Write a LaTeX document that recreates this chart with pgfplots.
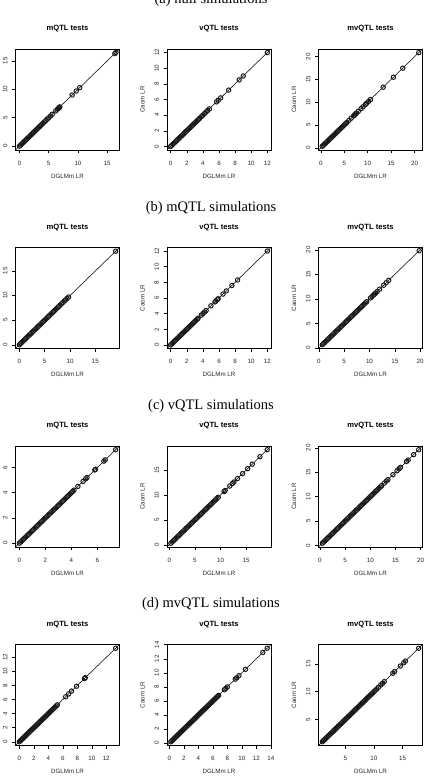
\documentclass[border=0pt]{standalone}
\usepackage{fontspec}
\setmainfont{Liberation Sans}
\newfontfamily\capfont{Liberation Serif}
\usepackage{pgfplots}
\usepackage{pgfplotstable}
\pgfplotsset{compat=1.18}

% null simulations
\pgfplotstableread[row sep=\\]{v\\0\\0.2\\0.4\\0.6\\0.8\\1.0\\1.2\\1.4\\1.6\\1.8\\2.0\\2.2\\2.4\\2.6\\2.8\\3.0\\3.2\\3.4\\3.6\\3.8\\4.0\\4.25\\4.5\\4.75\\5.0\\5.3\\5.6\\6.2\\6.5\\6.7\\6.8\\6.9\\9.0\\9.7\\10.3\\16.3\\16.5\\}\tA
\pgfplotstableread[row sep=\\]{v\\0\\0.15\\0.3\\0.45\\0.6\\0.75\\0.9\\1.05\\1.2\\1.35\\1.5\\1.65\\1.8\\1.95\\2.1\\2.25\\2.4\\2.55\\2.7\\2.85\\3.0\\3.15\\3.3\\3.45\\3.6\\3.8\\4.0\\4.2\\4.4\\4.6\\4.8\\5.7\\5.9\\6.2\\7.2\\8.5\\9.0\\12.0\\}\tB
\pgfplotstableread[row sep=\\]{v\\0.3\\0.55\\0.8\\1.05\\1.3\\1.55\\1.8\\2.05\\2.3\\2.55\\2.8\\3.05\\3.3\\3.55\\3.8\\4.05\\4.3\\4.55\\4.8\\5.05\\5.3\\5.55\\6.0\\6.5\\7.0\\7.2\\7.4\\7.6\\8.0\\8.6\\9.0\\9.5\\9.8\\10.2\\10.6\\13.3\\15.5\\17.5\\20.9\\}\tC
% mQTL simulations
\pgfplotstableread[row sep=\\]{v\\0\\0.25\\0.5\\0.75\\1.0\\1.25\\1.5\\1.75\\2.0\\2.25\\2.5\\2.75\\3.0\\3.25\\3.5\\3.75\\4.0\\4.25\\4.5\\4.75\\5.0\\5.25\\5.5\\5.75\\6.0\\6.25\\6.5\\6.75\\7.0\\7.25\\7.5\\7.75\\8.0\\8.3\\8.6\\8.9\\9.1\\9.4\\9.7\\19.0\\}\tD
\pgfplotstableread[row sep=\\]{v\\0\\0.15\\0.3\\0.45\\0.6\\0.75\\0.9\\1.05\\1.2\\1.35\\1.5\\1.65\\1.8\\1.95\\2.1\\2.25\\2.4\\2.55\\2.7\\2.85\\3.0\\3.15\\3.3\\3.4\\3.8\\4.0\\4.2\\4.4\\5.0\\5.5\\5.6\\5.8\\5.9\\6.5\\6.9\\7.6\\8.3\\12.0\\}\tE
\pgfplotstableread[row sep=\\]{v\\0.7\\0.95\\1.2\\1.45\\1.7\\1.95\\2.2\\2.45\\2.7\\2.95\\3.2\\3.45\\3.7\\3.95\\4.2\\4.45\\4.7\\4.95\\5.2\\5.45\\5.7\\5.95\\6.2\\6.45\\6.7\\6.95\\7.2\\7.45\\7.7\\7.95\\8.2\\8.45\\8.7\\8.95\\9.2\\9.45\\10.2\\10.5\\10.8\\11.0\\11.2\\11.5\\12.0\\12.8\\13.3\\13.8\\19.8\\}\tF
% vQTL simulations
\pgfplotstableread[row sep=\\]{v\\0\\0.1\\0.2\\0.3\\0.4\\0.5\\0.6\\0.7\\0.8\\0.9\\1.0\\1.1\\1.2\\1.3\\1.4\\1.5\\1.6\\1.7\\1.8\\1.9\\2.0\\2.1\\2.2\\2.3\\2.4\\2.5\\2.6\\2.7\\2.8\\2.9\\3.0\\3.1\\3.2\\3.3\\3.4\\3.5\\3.6\\3.7\\3.8\\3.9\\4.0\\4.1\\4.2\\4.5\\4.9\\5.1\\5.2\\5.8\\5.85\\6.5\\6.6\\7.4\\}\tG
\pgfplotstableread[row sep=\\]{v\\0.3\\0.55\\0.8\\1.05\\1.3\\1.55\\1.8\\2.05\\2.3\\2.55\\2.8\\3.05\\3.3\\3.55\\3.8\\4.05\\4.3\\4.55\\4.8\\5.05\\5.3\\5.55\\5.8\\6.05\\6.3\\6.55\\6.8\\7.05\\7.3\\7.55\\7.8\\8.05\\8.3\\8.55\\8.8\\9.05\\9.3\\9.55\\10.7\\10.9\\11.8\\12.3\\12.6\\13.3\\14.3\\15.3\\16.2\\17.7\\19.1\\}\tH
\pgfplotstableread[row sep=\\]{v\\0.5\\0.75\\1.0\\1.25\\1.5\\1.75\\2.0\\2.25\\2.5\\2.75\\3.0\\3.25\\3.5\\3.75\\4.0\\4.25\\4.5\\4.75\\5.0\\5.25\\5.5\\5.75\\6.0\\6.25\\6.5\\6.75\\7.0\\7.25\\7.5\\7.75\\8.0\\8.25\\8.5\\8.75\\9.0\\9.25\\9.5\\9.75\\10.0\\10.25\\10.5\\10.75\\11.0\\11.25\\11.5\\11.75\\12.0\\12.25\\12.8\\13.2\\13.5\\14.5\\15.3\\15.7\\16.0\\17.2\\17.5\\18.6\\19.6\\}\tI
% mvQTL simulations
\pgfplotstableread[row sep=\\]{v\\0\\0.15\\0.3\\0.45\\0.6\\0.75\\0.9\\1.05\\1.2\\1.35\\1.5\\1.65\\1.8\\1.95\\2.1\\2.25\\2.4\\2.55\\2.7\\2.85\\3.0\\3.15\\3.3\\3.45\\3.6\\3.75\\3.9\\4.05\\4.2\\4.35\\4.5\\4.65\\4.8\\4.95\\5.1\\5.25\\6.4\\6.8\\7.2\\7.9\\9.0\\9.1\\13.3\\}\tJ
\pgfplotstableread[row sep=\\]{v\\0.2\\0.35\\0.5\\0.65\\0.8\\0.95\\1.1\\1.25\\1.4\\1.55\\1.7\\1.85\\2.0\\2.15\\2.3\\2.45\\2.6\\2.75\\2.9\\3.05\\3.2\\3.35\\3.5\\3.65\\3.8\\3.95\\4.1\\4.25\\4.4\\4.55\\4.7\\4.85\\5.0\\5.15\\5.3\\5.45\\5.6\\5.75\\5.9\\6.05\\6.2\\6.35\\6.5\\6.65\\6.8\\7.6\\7.8\\8.0\\9.1\\9.3\\9.6\\10.5\\12.9\\13.5\\}\tK
\pgfplotstableread[row sep=\\]{v\\1.0\\1.2\\1.4\\1.6\\1.8\\2.0\\2.2\\2.4\\2.6\\2.8\\3.0\\3.2\\3.4\\3.6\\3.8\\4.0\\4.2\\4.4\\4.6\\4.8\\5.0\\5.2\\5.4\\5.6\\5.8\\6.0\\6.2\\6.4\\6.6\\6.8\\7.0\\7.2\\7.4\\7.6\\7.8\\8.0\\8.2\\8.4\\8.6\\8.8\\9.0\\9.2\\9.4\\9.6\\9.8\\10.0\\10.2\\10.5\\10.8\\11.2\\11.5\\11.8\\13.3\\13.6\\14.6\\15.2\\15.5\\17.8\\}\tL

\pgfplotsset{
 rp/.style={
  scale only axis, width=104pt, height=101pt, anchor=north west,
  enlargelimits=false, clip=true,
  axis line style={black, line width=0.6pt},
  tick align=outside, xtick pos=bottom, ytick pos=left,
  major tick length=3.5pt,
  every tick/.style={black, line width=0.5pt},
  /pgf/number format/assume math mode=true,
  scaled ticks=false,
  ticklabel style={font=\fontsize{6.2}{7}\selectfont, text=black!85},
  xticklabel style={anchor=north, inner sep=0pt, yshift=-7.3pt},
  yticklabel style={rotate=90, anchor=south, inner xsep=0pt, inner ysep=4.3pt},
  title style={font=\bfseries\fontsize{7.6}{9}\selectfont, at={(axis description cs:0.5,1)}, anchor=base, yshift=12pt},
  xlabel style={font=\fontsize{6.2}{7}\selectfont, text=black!85, at={(axis description cs:0.5,0)}, anchor=base, yshift=-28.3pt},
  ylabel style={font=\fontsize{6.2}{7}\selectfont, text=black!85, at={(axis description cs:-0.235,0.5)}, anchor=center},
  xlabel={DGLMm LR}, ylabel={Caom LR},
 },
 pts/.style={only marks, mark=o, mark size=2.2pt, black!90, mark options={line width=1.0pt}},
 diag/.style={black, line width=0.55pt, no marks},
}

\newcommand{\panel}[7]{%
\begin{axis}[rp, at={(#1pt,#2pt)}, title={#3}, xmin=#5, xmax=#6, ymin=#5, ymax=#6, xtick={#7}, ytick={#7}]
\addplot[pts] table[x=v,y=v]{#4};
\addplot[diag] coordinates {(-5,-5) (30,30)};
\end{axis}}

\begin{document}
\begin{tikzpicture}[x=1pt,y=1pt]
\useasboundingbox (0,0) rectangle (434,777);
\node[font=\capfont\fontsize{14.5}{17}\selectfont] at (211,777) {(a) null simulations};
\node[font=\capfont\fontsize{14.5}{17}\selectfont] at (211,569) {(b) mQTL simulations};
\node[font=\capfont\fontsize{14.5}{17}\selectfont] at (211,371) {(c) vQTL simulations};
\node[font=\capfont\fontsize{14.5}{17}\selectfont] at (211,173) {(d) mvQTL simulations};

\panel{15.5}{728}{mQTL tests}{\tA}{-0.68}{17.1}{0,5,10,15}
\panel{167}{728}{vQTL tests}{\tB}{-0.45}{12.45}{0,2,4,6,8,10,12}
\panel{318.5}{728}{mvQTL tests}{\tC}{-0.49}{21.7}{0,5,10,15,20}

\panel{15.5}{529.5}{mQTL tests}{\tD}{-0.76}{19.76}{0,5,10,15}
\panel{167}{529.5}{vQTL tests}{\tE}{-0.45}{12.45}{0,2,4,6,8,10,12}
\panel{318.5}{529.5}{mvQTL tests}{\tF}{-0.06}{20.46}{0,5,10,15,20}

\panel{15.5}{331}{mQTL tests}{\tG}{-0.3}{7.7}{0,2,4,6}
\panel{167}{331}{vQTL tests}{\tH}{-0.45}{19.85}{0,5,10,15}
\panel{318.5}{331}{mvQTL tests}{\tI}{-0.26}{20.36}{0,5,10,15,20}

\panel{15.5}{132.5}{mQTL tests}{\tJ}{-0.53}{13.83}{0,2,4,6,8,10,12}
\panel{167}{132.5}{vQTL tests}{\tK}{-0.33}{14.03}{0,2,4,6,8,10,12,14}
\panel{318.5}{132.5}{mvQTL tests}{\tL}{0.33}{18.47}{5,10,15}
\end{tikzpicture}
\end{document}
